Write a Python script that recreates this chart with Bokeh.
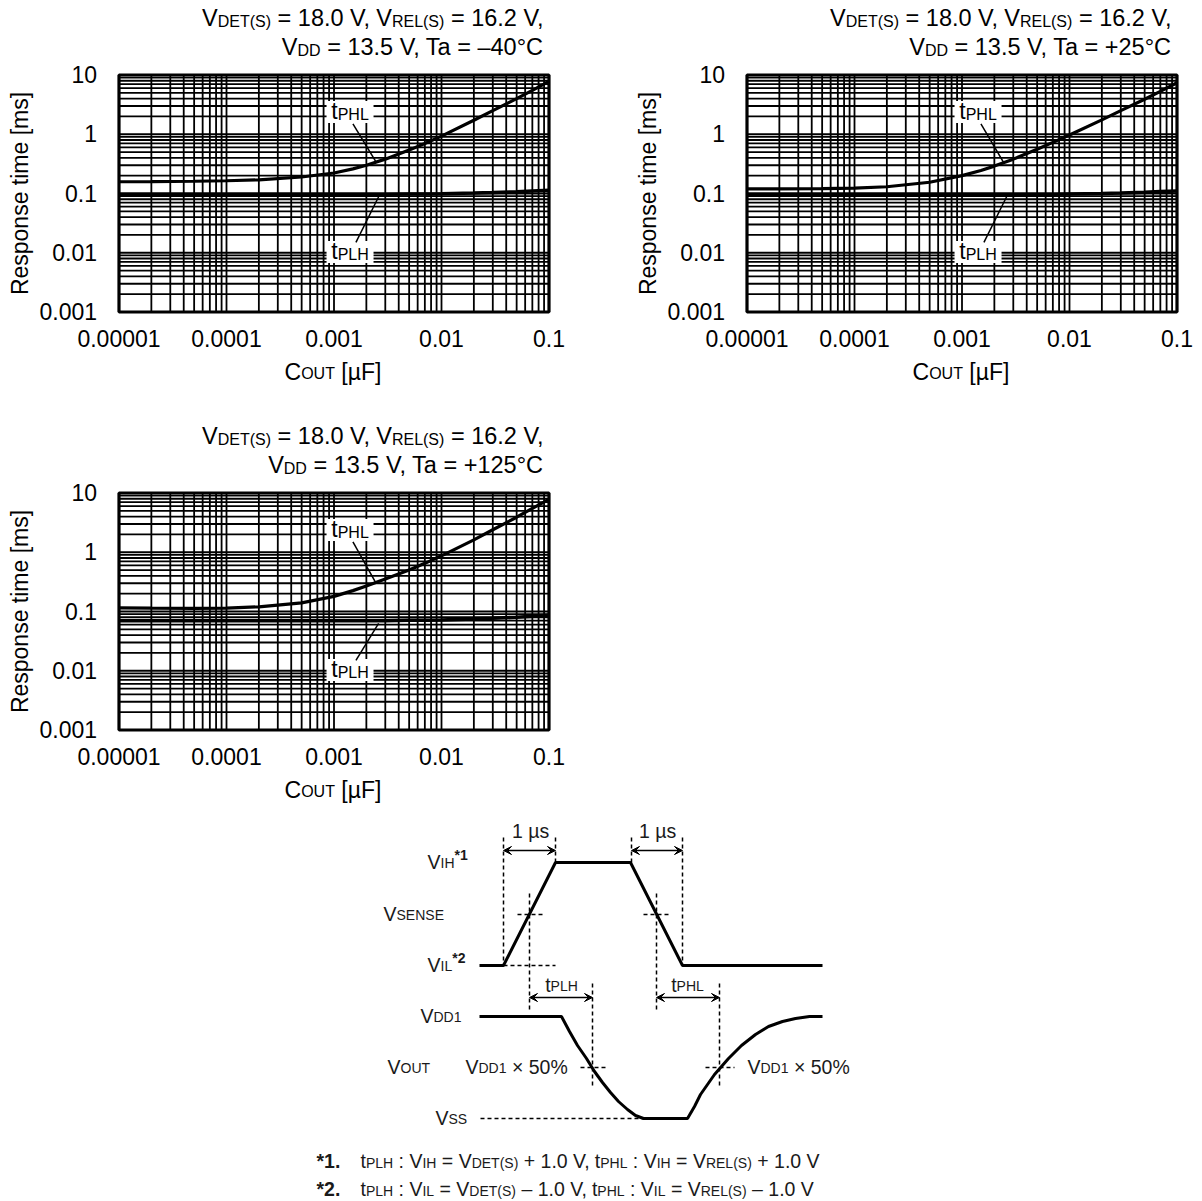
import math
from bokeh.plotting import figure
from bokeh.models import Range1d, LogScale, Arrow, VeeHead, ColumnDataSource
from bokeh.core.properties import value
from bokeh.embed import file_html
from bokeh.resources import INLINE

# ---------------- data ----------------
cout_uF = [1e-5, 2e-5, 5e-5, 1e-4, 2e-4, 5e-4, 1e-3, 1.5e-3, 2e-3, 3e-3, 5e-3, 7e-3,
           1e-2, 2e-2, 3e-2, 5e-2, 7e-2, 1e-1]
tphl_m40 = [0.158, 0.159, 0.161, 0.164, 0.170, 0.190, 0.222, 0.26, 0.30, 0.38, 0.54, 0.70,
            0.93, 1.72, 2.5, 4.0, 5.5, 7.8]
tplh_m40 = [0.097, 0.097, 0.097, 0.097, 0.097, 0.097, 0.097, 0.097, 0.097, 0.097, 0.098, 0.098,
            0.099, 0.102, 0.104, 0.107, 0.110, 0.113]
tphl_p25 = [0.120, 0.120, 0.121, 0.123, 0.130, 0.155, 0.200, 0.245, 0.29, 0.38, 0.56, 0.73,
            0.97, 1.75, 2.5, 3.9, 5.3, 7.4]
tplh_p25 = [0.097, 0.097, 0.097, 0.097, 0.097, 0.097, 0.097, 0.097, 0.097, 0.097, 0.097, 0.097,
            0.098, 0.100, 0.102, 0.105, 0.108, 0.110]
tphl_p125 = [0.115, 0.114, 0.113, 0.114, 0.120, 0.140, 0.180, 0.225, 0.27, 0.355, 0.50, 0.65,
             0.87, 1.62, 2.4, 3.9, 5.5, 7.8]
tplh_p125 = [0.070, 0.070, 0.070, 0.070, 0.070, 0.070, 0.070, 0.070, 0.070, 0.070, 0.071, 0.071,
             0.072, 0.075, 0.077, 0.080, 0.083, 0.086]

temps = ["\u201340\u00b0C", "+25\u00b0C", "+125\u00b0C"]

x_tick_vals = [1e-5, 1e-4, 1e-3, 1e-2, 1e-1]
x_tick_labels = ["0.00001", "0.0001", "0.001", "0.01", "0.1"]
y_tick_vals = [1e-3, 1e-2, 1e-1, 1, 10]
y_tick_labels = ["0.001", "0.01", "0.1", "1", "10"]

# curve-label anchors (data units) and leader lines
lab_x = 1.41e-3
lab_y_phl, lab_y_plh = 2.38, 0.0103
lead_phl_x, lead_phl_y0 = [1.5e-3, 2.45e-3], 1.5
lead_plh_x, lead_plh_y0 = [1.6e-3, 2.6e-3], 0.015
lead_phl_end = [0.345, 0.33, 0.305]
lead_plh_end = [0.088, 0.088, 0.063]

# timing diagram (diagram units)
vsense_x = [479, 503, 555, 630, 682, 822]
vsense_y = [965, 965, 862, 862, 965, 965]
vout_x = [479, 561, 569, 577, 586, 594, 602, 610, 618, 627, 635, 643,
          687, 694, 700, 707, 714, 728, 741, 755, 768, 782, 795, 809, 822]
vout_y = [1016, 1016, 1031, 1045, 1058, 1071, 1082, 1092, 1101, 1109, 1115, 1118,
          1118, 1106, 1094, 1084, 1074, 1058, 1045, 1034, 1026, 1021, 1018, 1016, 1016]
dash_x0 = [503, 555, 631, 682, 503, 517, 529, 643, 656, 592, 580, 719, 705, 480]
dash_y0 = [837, 837, 837, 837, 965, 914, 893, 914, 893, 983, 1067, 983, 1067, 1118]
dash_x1 = [503, 555, 631, 682, 555, 543, 529, 670, 656, 592, 606, 719, 734, 643]
dash_y1 = [965, 862, 862, 965, 965, 914, 1012, 914, 1012, 1087, 1067, 1087, 1067, 1118]
arr_x0 = [503, 631, 529, 656]
arr_x1 = [555, 682, 592, 719]
arr_y = [850, 850, 997, 997]

FONT = "Liberation Sans"
W, H = 1200, 1200

# ---------------- text helpers ----------------
_W = {' ': 278, '!': 278, '(': 333, ')': 333, '*': 389, '+': 584, ',': 278, '-': 333,
      '.': 278, '/': 278, ':': 278, '=': 584, '%': 889, '[': 278, ']': 278, '\u00b0': 400,
      '\u00d7': 584, '\u2013': 556, '\u00b5': 576}
for c in "0123456789":
    _W[c] = 556
for c, w in zip("ABCDEFGHIJKLMNOPQRSTUVWXYZ",
                [667, 667, 722, 722, 667, 611, 778, 722, 278, 500, 667, 556, 833, 722, 778,
                 667, 778, 722, 667, 611, 722, 667, 944, 667, 667, 611]):
    _W[c] = w
for c, w in zip("abcdefghijklmnopqrstuvwxyz",
                [556, 556, 500, 556, 556, 278, 556, 556, 222, 222, 500, 222, 833, 556, 556,
                 556, 556, 333, 500, 278, 556, 500, 722, 500, 500, 500]):
    _W[c] = w
_KERN = {("V", ","): -111, ("T", "a"): -111, ("V", "."): -111}

CAPH = 0.344


def tw(s, size):
    w = sum(_W.get(c, 556) for c in s)
    w += sum(_KERN.get((a, b), 0) for a, b in zip(s, s[1:]))
    return w * size / 1000.0


def rich(p, x, yc, pieces, align="left", color="black", **rn):
    """pieces: (text, size, dy_down, style); yc = cap centre of the largest text."""
    smax = max(s for _, s, _, _ in pieces)
    total = sum(tw(t, s) for t, s, _, _ in pieces)
    off = {"left": 0.0, "right": -total, "center": -total / 2}[align]
    for t, s, dy, st in pieces:
        lead = len(t) - len(t.lstrip(" "))
        txt = t.strip(" ")
        if txt:
            p.text(x=[x], y=[yc], text=[txt], x_offset=off + tw(" " * lead, s),
                   y_offset=CAPH * (smax - s) + dy - 1,
                   text_font=value(FONT), text_font_size=f"{s}px", text_font_style=st,
                   text_color=color, text_baseline="middle", text_align="left", **rn)
        off += tw(t, s)


FS, SS, TS = 23, 16, 23.5
FRAME_W, FRAME_H = 430.0, 237.0
DX, DY = FRAME_W / 4, FRAME_H / 4


def grid_vals(e0, e1):
    return [m * 10.0 ** e for e in range(e0, e1) for m in range(1, 10)] + [10.0 ** e1]


p = figure(width=W, height=H, x_range=Range1d(0, W), y_range=Range1d(H, 0),
           x_axis_location=None, y_axis_location=None, min_border=0,
           toolbar_location=None, output_backend="svg")
p.grid.visible = False
p.outline_line_color = None
p.background_fill_color = "white"
p.border_fill_color = "white"


def chart(k, L, T, temp, tphl, tplh):
    xn, yn = f"x{k}", f"y{k}"
    B = T + FRAME_H
    p.extra_x_ranges[xn] = Range1d(10 ** (-5 - L / DX), 10 ** (-1 + (W - L - FRAME_W) / DX))
    p.extra_y_ranges[yn] = Range1d(10 ** (-3 - (H - B) / DY), 10 ** (1 + T / DY))
    p.extra_x_scales[xn] = LogScale()
    p.extra_y_scales[yn] = LogScale()
    rn = dict(x_range_name=xn, y_range_name=yn)
    gx = grid_vals(-5, -1)
    gy = grid_vals(-3, 1)
    # grid
    p.segment(x0=gx, y0=[1e-3] * len(gx), x1=gx, y1=[10] * len(gx),
              line_color="black", line_width=1.8, **rn)
    p.segment(x0=[1e-5] * len(gy), y0=gy, x1=[1e-1] * len(gy), y1=gy,
              line_color="black", line_width=1.8, **rn)
    # frame
    p.quad(left=[1e-5], right=[1e-1], bottom=[1e-3], top=[10], fill_color=None,
           line_color="black", line_width=3.2, **rn)
    # tick labels
    p.text(x=x_tick_vals, y=[1e-3] * 5, text=x_tick_labels, y_offset=26.5,
           text_font=value(FONT), text_font_size=f"{FS}px", text_color="black",
           text_align="center", text_baseline="middle", **rn)
    p.text(x=[1e-5] * 5, y=y_tick_vals, text=y_tick_labels, x_offset=-22, y_offset=-0.5,
           text_font=value(FONT), text_font_size=f"{FS}px", text_color="black",
           text_align="right", text_baseline="middle", **rn)
    # curves
    p.line(cout_uF, tphl, line_color="black", line_width=3.2, **rn)
    p.line(cout_uF, tplh, line_color="black", line_width=3.6, **rn)
    # curve labels
    p.rect(x=[lab_x, lab_x], y=[lab_y_phl, lab_y_plh], width=47, height=22,
           width_units="screen", height_units="screen", fill_color="white",
           line_color=None, **rn)
    p.segment(x0=[lead_phl_x[0], lead_plh_x[0]], y0=[lead_phl_y0, lead_plh_y0],
              x1=[lead_phl_x[1], lead_plh_x[1]], y1=[lead_phl_end[k], lead_plh_end[k]],
              line_color="black", line_width=1.5, **rn)
    for ly, sub in ((lab_y_phl, "PHL"), (lab_y_plh, "PLH")):
        rich(p, lab_x, ly, [("t", FS, 0, "normal"), (sub, SS, 1, "normal")],
             align="center", **rn)
    # titles
    R = L + FRAME_W - 6
    rich(p, R, T - 56.5, [("V", TS, 0, "normal"), ("DET(S)", SS, 1.5, "normal"),
                          (" = 18.0 V,", TS, 0, "normal"), (" V", TS, 0, "normal"),
                          ("REL(S)", SS, 1.5, "normal"),
                          (" = 16.2 V,", TS, 0, "normal")], align="right")
    rich(p, R, T - 27.5, [("V", TS, 0, "normal"), ("DD", SS, 1.5, "normal"),
                          (" = 13.5 V, Ta = " + temp, TS, 0, "normal")], align="right")
    # axis titles
    rich(p, L + FRAME_W / 2 - 1, B + 60.5, [("C", FS, 0, "normal"), ("OUT", SS, 0, "normal"),
                                           (" [\u00b5F]", FS, 0, "normal")], align="center")
    p.text(x=[L - 99.5], y=[T + FRAME_H / 2], text=["Response time [ms]"], angle=math.pi / 2,
           text_font=value(FONT), text_font_size=f"{FS}px", text_color="black",
           text_align="center", text_baseline="middle")


chart(0, 118.5, 74.5, temps[0], tphl_m40, tplh_m40)
chart(1, 746.5, 74.5, temps[1], tphl_p25, tplh_p25)
chart(2, 118.5, 492.5, temps[2], tphl_p125, tplh_p125)

# ---------------- timing diagram ----------------
p.segment(x0=dash_x0, y0=dash_y0, x1=dash_x1, y1=dash_y1, line_color="black",
          line_width=1.5, line_dash="4 3")
p.line(vsense_x, vsense_y, line_color="black", line_width=3)
p.line(vout_x, vout_y, line_color="black", line_width=3)
asrc = ColumnDataSource(dict(x0=arr_x0, x1=arr_x1, y=arr_y))
p.add_layout(Arrow(x_start="x0", y_start="y", x_end="x1", y_end="y", source=asrc,
                   line_color="black", line_width=1.5,
                   start=VeeHead(size=8, fill_color="black", line_color="black", line_width=1),
                   end=VeeHead(size=8, fill_color="black", line_color="black", line_width=1)))

DF, DS = 19.5, 14
TC = "#1a1a1a"
N = "normal"
for xc in (530, 657):
    rich(p, xc, 831, [("1 \u00b5s", DF, 0, N)], align="center", color=TC)
rich(p, 561, 985, [("t", DF, 0, N), ("PLH", DS, 0, N)], align="center", color=TC)
rich(p, 687, 985, [("t", DF, 0, N), ("PHL", DS, 0, N)], align="center", color=TC)
rich(p, 427, 862, [("V", DF, 0, N), ("IH", DS, 0, N), ("*1", DS, -8, "bold")], color=TC)
rich(p, 383, 914, [("V", DF, 0, N), ("SENSE", DS, 0, N)], color=TC)
rich(p, 427, 965, [("V", DF, 0, N), ("IL", DS, 0, N), ("*2", DS, -8, "bold")], color=TC)
rich(p, 420, 1016, [("V", DF, 0, N), ("DD1", DS, 0, N)], color=TC)
rich(p, 387, 1067, [("V", DF, 0, N), ("OUT", DS, 0, N)], color=TC)
rich(p, 435, 1118, [("V", DF, 0, N), ("SS", DS, 0, N)], color=TC)
for x0 in (465, 747):
    rich(p, x0, 1067, [("V", DF, 0, N), ("DD1", DS, 0, N), (" \u00d7 50%", DF, 0, N)], color=TC)

# footnotes
rich(p, 316, 1161, [("*1.", DF, 0, "bold")], color=TC)
rich(p, 316, 1189, [("*2.", DF, 0, "bold")], color=TC)
rich(p, 360, 1161, [("t", DF, 0, N), ("PLH", DS, 1, N), (" : V", DF, 0, N),
                    ("IH", DS, 1, N), (" = V", DF, 0, N), ("DET(S)", DS, 1, N),
                    (" + 1.0 V,", DF, 0, N), (" t", DF, 0, N), ("PHL", DS, 1, N),
                    (" : V", DF, 0, N), ("IH", DS, 1, N), (" = V", DF, 0, N),
                    ("REL(S)", DS, 1, N), (" + 1.0 V", DF, 0, N)], color=TC)
rich(p, 360, 1189, [("t", DF, 0, N), ("PLH", DS, 1, N), (" : V", DF, 0, N),
                    ("IL", DS, 1, N), (" = V", DF, 0, N), ("DET(S)", DS, 1, N),
                    (" \u2013 1.0 V,", DF, 0, N), (" t", DF, 0, N), ("PHL", DS, 1, N),
                    (" : V", DF, 0, N), ("IL", DS, 1, N), (" = V", DF, 0, N),
                    ("REL(S)", DS, 1, N), (" \u2013 1.0 V", DF, 0, N)], color=TC)

open("out.html", "w").write(file_html(p, INLINE))
